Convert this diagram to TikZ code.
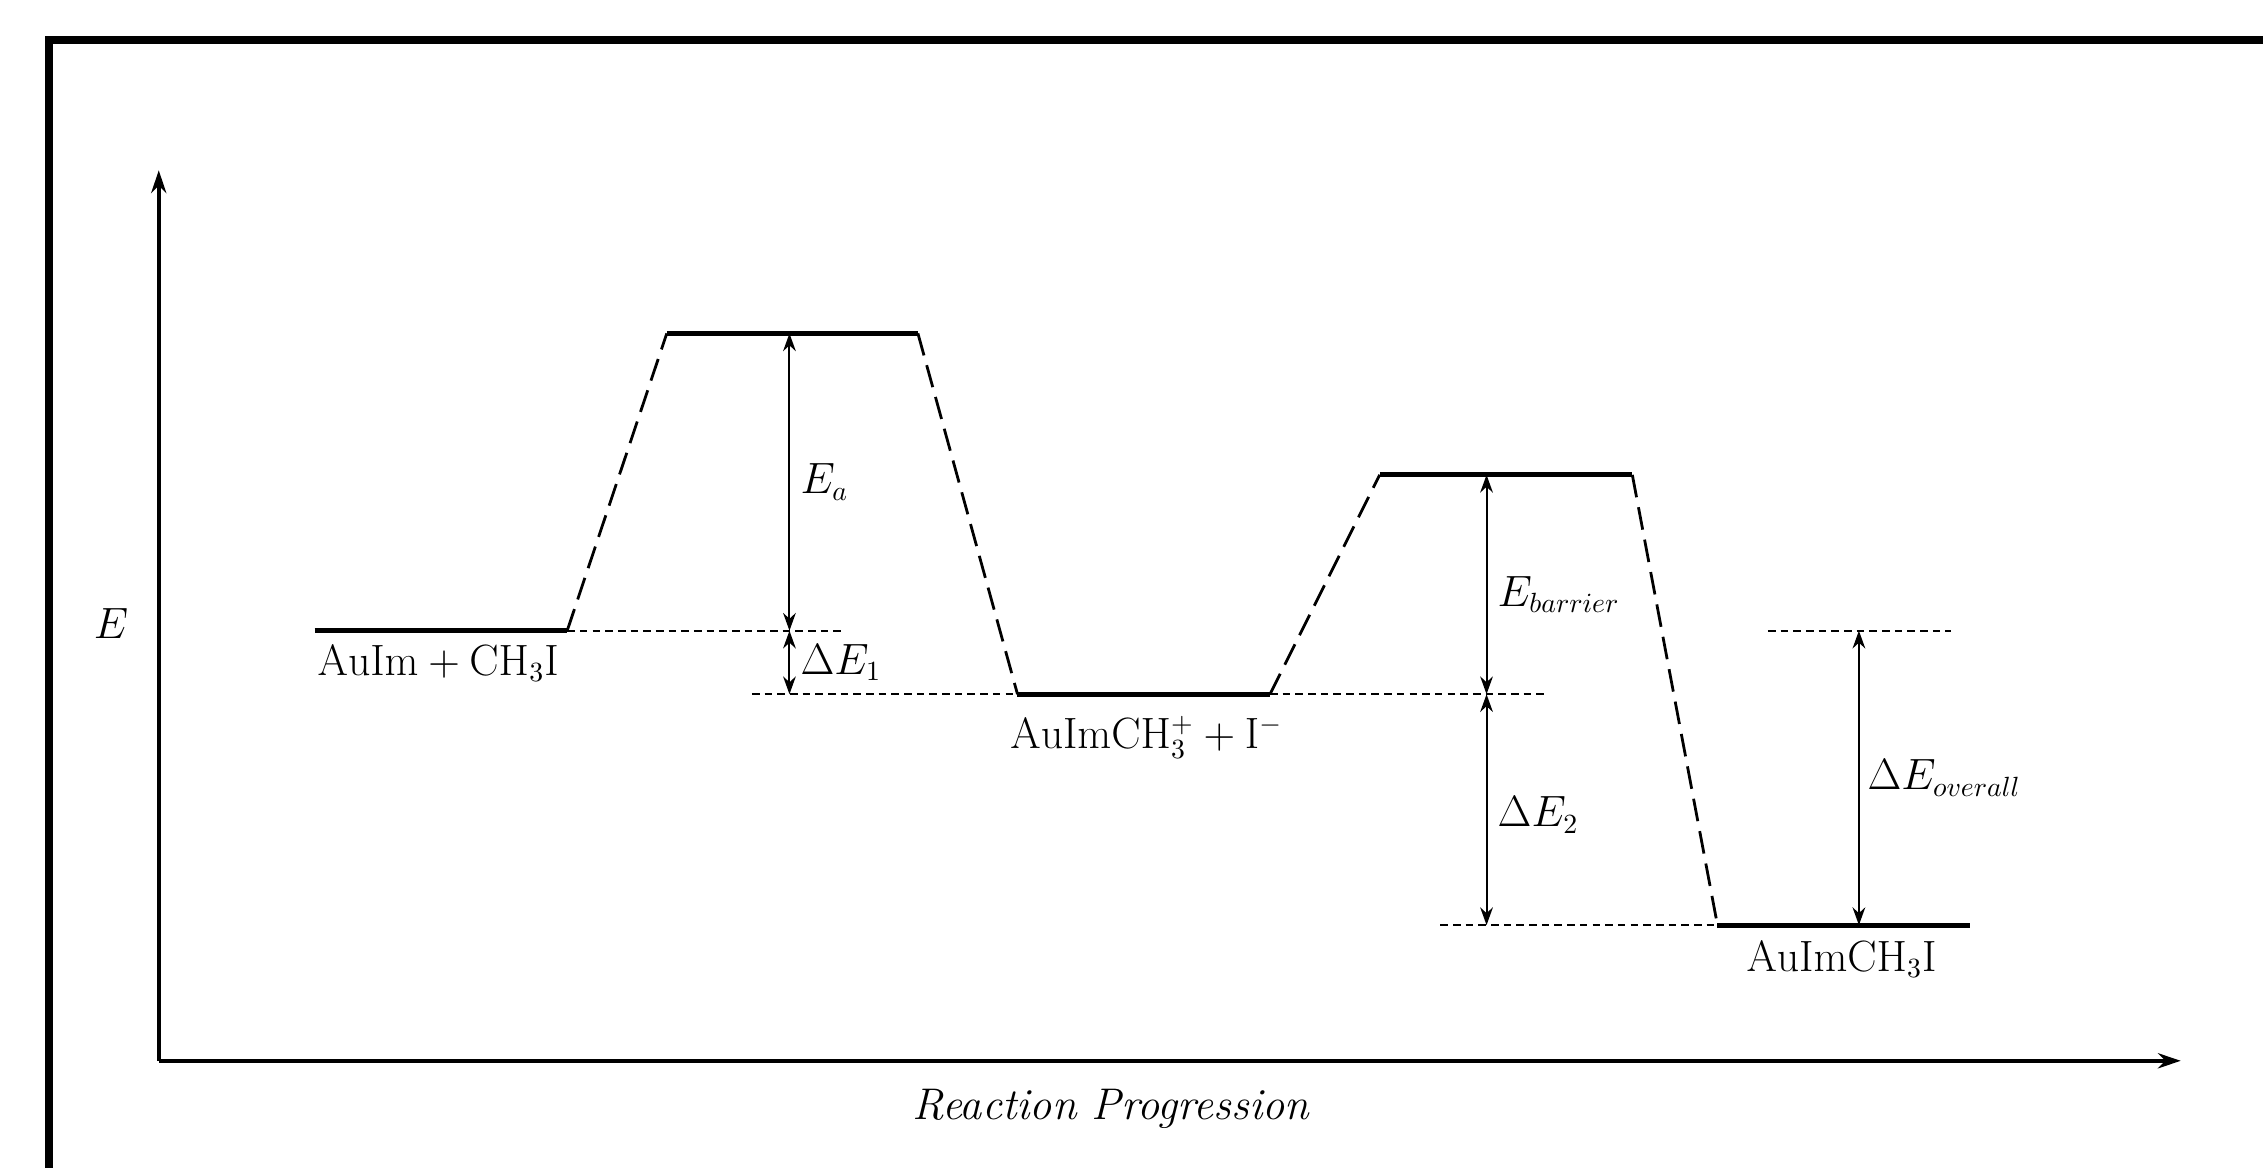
\documentclass[tikz,border=0pt]{standalone}
\usepackage{tikz}
\usetikzlibrary{arrows.meta, positioning, calc}

\begin{document}
\begin{tikzpicture}[
  x=0.02cm, y=-0.02cm,
  level/.style={line width=2pt},
  path/.style={line width=1.1pt, dash pattern=on 9pt off 4pt},
  guide/.style={line width=0.7pt, dash pattern=on 3pt off 2pt},
  dim/.style={{Stealth[length=7pt,width=5pt]}-{Stealth[length=7pt,width=5pt]}, line width=0.8pt},
  axis/.style={-{Stealth[length=9pt,width=6pt]}, line width=1.4pt},
  lbl/.style={font=\fontsize{16}{19}\selectfont, inner sep=1pt}
]
  \useasboundingbox (0,0) rectangle (1568,809);
  % frame
  \draw[line width=3pt] (34,809) -- (34,27.5) -- (1568,27.5);
  % axes
  \coordinate (o) at (110,735);
  \coordinate (ytip) at (110,118);
  \coordinate (xtip) at (1511,735);
  \draw[axis] (o) -- (ytip);
  \draw[axis] (o) -- (xtip);
  \node[lbl] (ylab) at (77,432) {$E$};
  \node[lbl, font=\fontsize{17.5}{20}\selectfont] (xlab) at (770,768) {\textit{Reaction Progression}};
  % energy levels
  \foreach \n/\xa/\xb/\y in {r/218/393/437, ts1/462/636/231, im/705/880/481,
                             ts2/956/1131/329, p/1190/1365/641}{
    \coordinate (\n-l) at (\xa,\y);
    \coordinate (\n-r) at (\xb,\y);
    \draw[level] (\n-l) -- (\n-r);
  }
  \foreach \a/\b in {r-r/ts1-l, ts1-r/im-l, im-r/ts2-l, ts2-r/p-l}
    \draw[path] (\a) -- (\b);
  % species
  \node[lbl, anchor=north west] (rlab) at (218,445) {$\mathrm{AuIm}+\mathrm{CH_3I}$};
  \node[lbl, anchor=north west] (imlab) at (698,494) {$\mathrm{AuImCH_3^+}+\mathrm{I^-}$};
  \node[lbl, anchor=north west] (plab) at (1208,650) {$\mathrm{AuImCH_3I}$};
  % reference lines
  \coordinate (g1) at (583,437);
  \coordinate (g2) at (521,481);
  \coordinate (g3) at (1072,481);
  \coordinate (g4) at (998,641);
  \coordinate (g5a) at (1225,437);
  \coordinate (g5b) at (1352,437);
  \draw[guide] (r-r) -- (g1);
  \draw[guide] (g2) -- (im-l);
  \draw[guide] (im-r) -- (g3);
  \draw[guide] (g4) -- (p-l);
  \draw[guide] (g5a) -- (g5b);
  % energy differences
  \coordinate (d1) at (547,0);
  \coordinate (d2) at (1030,0);
  \coordinate (d3) at (1288,0);
  \draw[dim] (d1 |- ts1-l) -- node[lbl, right=3pt] (ealab) {$E_a$} (d1 |- r-l);
  \draw[dim] (d1 |- r-l) -- node[lbl, right=3pt] (de1lab) {$\Delta E_1$} (d1 |- im-l);
  \draw[dim] (d2 |- ts2-l) -- node[lbl, right=3pt, yshift=-4pt] (eblab) {$E_{barrier}$} (d2 |- im-l);
  \draw[dim] (d2 |- im-l) -- node[lbl, right=3pt, yshift=-2pt] (de2lab) {$\Delta E_2$} (d2 |- p-l);
  \draw[dim] (d3 |- g5a) -- node[lbl, right=2pt] (deolab) {$\Delta E_{overall}$} (d3 |- p-l);
\end{tikzpicture}
\end{document}
